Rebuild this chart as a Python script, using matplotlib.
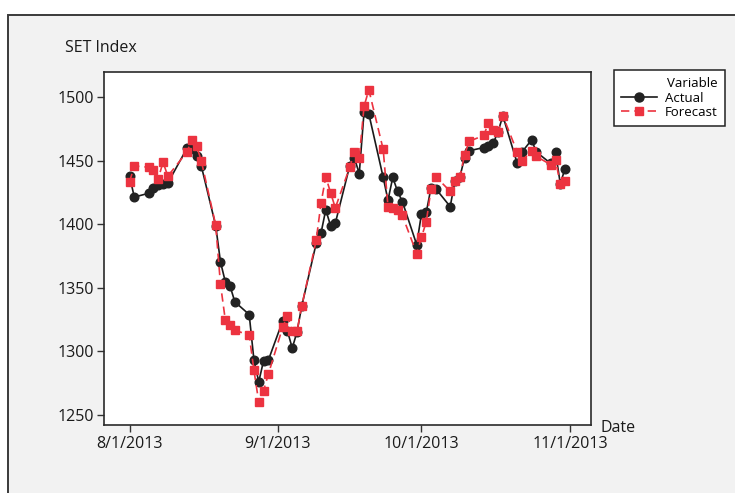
import numpy as np
import pandas as pd
import matplotlib
matplotlib.use("Agg")
import matplotlib.pyplot as plt
import matplotlib.dates as mdates
from matplotlib.patches import Rectangle
from matplotlib.lines import Line2D

plt.rcParams['font.family'] = ['Open Sans', 'DejaVu Sans']

# trading days, Aug - Oct 2013
dates = pd.to_datetime([
    "2013-08-01", "2013-08-02", "2013-08-05", "2013-08-06", "2013-08-07", "2013-08-08", "2013-08-09",
    "2013-08-13", "2013-08-14", "2013-08-15", "2013-08-16",
    "2013-08-19", "2013-08-20", "2013-08-21", "2013-08-22", "2013-08-23",
    "2013-08-26", "2013-08-27", "2013-08-28", "2013-08-29", "2013-08-30",
    "2013-09-02", "2013-09-03", "2013-09-04", "2013-09-05", "2013-09-06",
    "2013-09-09", "2013-09-10", "2013-09-11", "2013-09-12", "2013-09-13",
    "2013-09-16", "2013-09-17", "2013-09-18", "2013-09-19", "2013-09-20",
    "2013-09-23", "2013-09-24", "2013-09-25", "2013-09-26", "2013-09-27",
    "2013-09-30", "2013-10-01", "2013-10-02", "2013-10-03", "2013-10-04",
    "2013-10-07", "2013-10-08", "2013-10-09", "2013-10-10", "2013-10-11",
    "2013-10-14", "2013-10-15", "2013-10-16", "2013-10-17", "2013-10-18",
    "2013-10-21", "2013-10-22", "2013-10-24", "2013-10-25",
    "2013-10-28", "2013-10-29", "2013-10-30", "2013-10-31",
])

actual = [
    1438, 1421.5, 1424.5, 1429, 1431, 1431.5, 1432.5,
    1460, 1459, 1454, 1446,
    1399, 1370.5, 1355, 1351.5, 1339,
    1329, 1293, 1276, 1292.5, 1293,
    1324, 1316, 1302.5, 1315.5, 1336,
    1385, 1393, 1411.5, 1399, 1401,
    1446, 1452, 1440, 1488.5, 1487,
    1437, 1419, 1437, 1426, 1418,
    1384, 1408.5, 1409.5, 1429, 1428,
    1414, 1434.5, 1437, 1452.5, 1458,
    1460.5, 1462, 1464, 1473, 1485.5,
    1448, 1457, 1466.5, 1457,
    1448, 1457, 1432, 1444,
]

forecast = [
    1433.5, 1446, 1445, 1443, 1436, 1449, 1438,
    1457, 1466.5, 1462, 1450,
    1399.5, 1353, 1325, 1321, 1316.5,
    1313, 1285, 1260, 1269, 1282,
    1319, 1328, 1316, 1316, 1336,
    1387.5, 1416.5, 1437.5, 1425, 1413,
    1445, 1457, 1452.5, 1493, 1506,
    1459, 1414, 1413, 1411, 1407,
    1377, 1390, 1402, 1428, 1437.5,
    1426, 1434.5, 1437, 1455, 1465.5,
    1470, 1480, 1474, 1473, 1485.5,
    1457, 1450, 1458, 1453.5,
    1447, 1451, 1431.5, 1434,
]

yticks = [1250, 1300, 1350, 1400, 1450, 1500]
xticks = pd.to_datetime(["2013-08-01", "2013-09-01", "2013-10-01", "2013-11-01"])

red = "#ec3340"

fig = plt.figure(figsize=(7.35, 4.93), dpi=100)
fig.patch.set_facecolor("white")
# outer graph frame, kept behind the axes
frame = Rectangle((8 / 735, -0.05), 1.0, 1.05 - 15 / 493, transform=fig.transFigure,
                  facecolor="#f2f2f2", edgecolor="#3a3a3a", lw=1.4, zorder=-10)
fig.patches.append(frame)

ax = fig.add_axes([104 / 735, 68 / 493, 487 / 735, 353 / 493])
ax.set_zorder(1)
ax.set_facecolor("white")

ax.plot(dates, actual, "-", color="#1a1a1a", lw=1.2, marker="o", ms=6.2,
        mfc="#222222", mec="#222222", zorder=3)
ax.plot(dates, forecast, color=red, lw=1.2, ls=(0, (5, 3)), marker="s", ms=5.6,
        mfc=red, mec=red, zorder=4)

ax.set_ylim(1242, 1520)
ax.set_xlim(pd.Timestamp("2013-07-26 16:00"), pd.Timestamp("2013-11-05 10:00"))
ax.set_yticks(yticks)
ax.set_xticks(xticks)
ax.xaxis.set_major_formatter(mdates.DateFormatter("%-m/%-d/%Y"))

ax.tick_params(axis="both", direction="out", length=5, width=1, color="#333333",
               labelsize=11.5, labelcolor="#1a1a1a")
ax.tick_params(axis="x", pad=3)
ax.tick_params(axis="y", pad=2)
for s in ax.spines.values():
    s.set_color("#2a2a2a")
    s.set_linewidth(1.2)

fig.text(65 / 735, 1 - 48 / 493, "SET Index", fontsize=11.5, color="#1a1a1a",
         ha="left", va="center")
fig.text(600 / 735, 1 - 428 / 493, "Date", fontsize=11.5, color="#1a1a1a",
         ha="left", va="center")

handles = [
    Line2D([], [], color="#1a1a1a", lw=1.2, marker="o", ms=6.5, mfc="#222222", mec="#222222"),
    Line2D([], [], color=red, lw=1.2, ls=(0, (5, 3)), marker="s", ms=6, mfc=red, mec=red),
]
leg = fig.legend(handles, ["Actual", "Forecast"], title="Variable",
                 loc="upper left", bbox_to_anchor=(614 / 735, 1 - 70 / 493),
                 fontsize=9.5, title_fontsize=9.5, frameon=True, fancybox=False,
                 edgecolor="#222222", framealpha=1, handlelength=2.7,
                 borderpad=0.55, labelspacing=0.1, handletextpad=0.6,
                 alignment="right", borderaxespad=0)
leg.get_frame().set_linewidth(1.1)
leg.set_zorder(2)

fig.savefig("out.png", dpi=100, facecolor=fig.get_facecolor())
